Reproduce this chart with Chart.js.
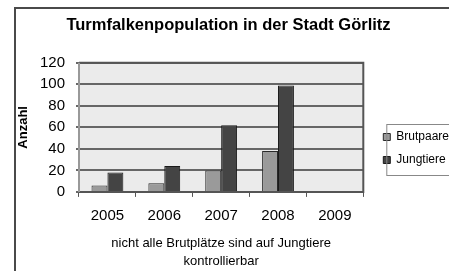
<!DOCTYPE html>
<html>
<head>
<meta charset="utf-8">
<script src="https://cdn.jsdelivr.net/npm/chart.js@4.4.1/dist/chart.umd.min.js"></script>
<style>
  html, body { margin: 0; padding: 0; background: #fff; overflow: hidden; }
  #wrap { position: relative; width: 450px; height: 271px; }
  #frame { position: absolute; left: 14px; top: 7px; right: 0; bottom: 0;
           border-left: 2px solid #4a4a4a; border-top: 2px solid #4a4a4a; }
  #c { position: absolute; left: 0; top: 0; }
</style>
</head>
<body>
<div id="wrap">
  <div id="frame"></div>
  <canvas id="c" width="450" height="271"></canvas>
</div>
<script>
// Daten
const jahre = ['2005', '2006', '2007', '2008', '2009'];
const brutpaare = [6, 8, 20, 38, null];
const jungtiere = [18, 24, 62, 99, null];
const yMax = 120;
const yStep = 20;

const FONT = 'Arial, "Liberation Sans", sans-serif';

// Hintergrund und Rahmen der Zeichenfläche
const plotArea = {
  id: 'plotArea',
  beforeDraw(chart) {
    const { ctx, chartArea: a } = chart;
    ctx.save();
    ctx.fillStyle = '#ebebeb';
    ctx.fillRect(a.left, a.top, a.right - a.left, a.bottom - a.top);
    ctx.restore();
  },
  afterDraw(chart) {
    const { ctx, chartArea: a } = chart;
    ctx.save();
    ctx.lineWidth = 2;
    ctx.strokeStyle = '#555';
    ctx.beginPath();
    ctx.moveTo(a.left, a.top);
    ctx.lineTo(a.right, a.top);
    ctx.lineTo(a.right, a.bottom);
    ctx.lineTo(a.left, a.bottom);
    ctx.stroke();
    ctx.strokeStyle = '#999';
    ctx.beginPath();
    ctx.moveTo(a.left, a.top);
    ctx.lineTo(a.left, a.bottom);
    ctx.stroke();
    // Legendenrahmen
    const hb = chart.legend.legendHitBoxes;
    if (hb && hb.length) {
      const l = hb[0].left - 6;
      const t = hb[0].top - 7;
      const b = hb[hb.length - 1].top + hb[hb.length - 1].height + 9;
      ctx.lineWidth = 1;
      ctx.strokeStyle = '#888';
      ctx.strokeRect(l + 0.5, t + 0.5, 200, b - t);
    }
    ctx.restore();
  }
};

// Legende etwas verschieben
const legendShift = {
  id: 'legendShift',
  afterLayout(chart) {
    const lg = chart.legend;
    const dx = 9, dy = 10;
    lg.left += dx;
    lg.right += dx;
    lg.top += dy;
    lg.bottom += dy;
    (lg.legendHitBoxes || []).forEach(h => { h.left += dx; h.top += dy; });
  }
};

new Chart(document.getElementById('c'), {
  type: 'bar',
  data: {
    labels: jahre,
    datasets: [
      {
        label: 'Brutpaare',
        data: brutpaare,
        backgroundColor: '#9a9a9a',
        borderColor: '#2a2a2a',
        borderWidth: 1
      },
      {
        label: 'Jungtiere',
        data: jungtiere,
        backgroundColor: '#444',
        borderColor: '#1a1a1a',
        borderWidth: 1
      }
    ]
  },
  options: {
    responsive: false,
    animation: false,
    layout: { padding: { left: 7, top: 6, right: 0, bottom: 0 } },
    datasets: {
      bar: { categoryPercentage: 0.56, barPercentage: 1.0 }
    },
    scales: {
      x: {
        grid: { drawOnChartArea: false, offset: true, tickLength: 5, color: '#555', lineWidth: 1 },
        border: { display: false },
        ticks: { color: '#000', font: { family: FONT, size: 15 }, padding: 10, autoSkip: false, maxRotation: 0 },
        title: {
          display: true,
          text: ['nicht alle Brutplätze sind auf Jungtiere', 'kontrollierbar'],
          color: '#000',
          font: { family: FONT, size: 13, lineHeight: 1.35 },
          padding: { top: 0, bottom: 1 }
        }
      },
      y: {
        min: 0,
        max: yMax,
        grid: { color: '#666', lineWidth: 2, tickLength: 3 },
        border: { display: false },
        ticks: { stepSize: yStep, color: '#000', font: { family: FONT, size: 15 }, padding: 11, autoSkip: false },
        title: {
          display: true,
          text: 'Anzahl',
          color: '#000',
          font: { family: FONT, size: 13, weight: 'bold' },
          padding: { top: 9, bottom: 0 }
        },
        afterFit(scale) { scale.width = 72; }
      }
    },
    plugins: {
      title: {
        display: true,
        text: 'Turmfalkenpopulation in der Stadt Görlitz',
        color: '#000',
        font: { family: FONT, size: 16.5, weight: 'bold' },
        padding: { top: 10, bottom: 27 }
      },
      legend: {
        position: 'right',
        labels: {
          boxWidth: 7,
          boxHeight: 7,
          color: '#000',
          font: { family: FONT, size: 12 },
          padding: 11
        }
      },
      tooltip: { enabled: false }
    }
  },
  plugins: [plotArea, legendShift]
});
</script>
</body>
</html>
